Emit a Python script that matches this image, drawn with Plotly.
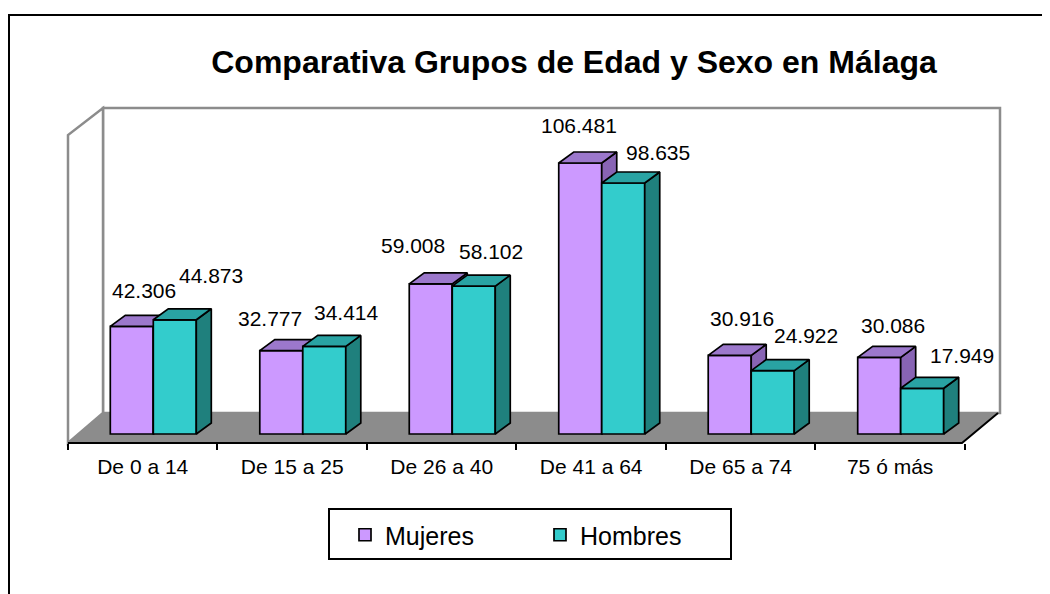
import plotly.graph_objects as go

# ---------------- data ----------------
categories = ["De 0 a 14", "De 15 a 25", "De 26 a 40", "De 41 a 64", "De 65 a 74", "75 ó más"]
mujeres = [42306, 32777, 59008, 106481, 30916, 30086]
hombres = [44873, 34414, 58102, 98635, 24922, 17949]
series_names = ["Mujeres", "Hombres"]

# label offsets (pixels) relative to the front-top centre of each bar (Excel placement)
lab_dx_m = [12, -11, -18, -1, 12, 14]
lab_dy_m = [36, 32, 38, 38, 37, 32]
lab_dx_h = [36, 22, 17, 35, 33, 40]
lab_dy_h = [44, 34, 35, 30, 35, 33]

# ---------------- geometry / style ----------------
W, H = 1050, 594
PAGE = 8                                   # browser body margin
def fx(xp):                                # page pixel -> figure pixel
    return xp - PAGE
def fy(yp):
    return yp - PAGE

L, R, T, B = fx(68), fx(1000), fy(108), fy(443)   # plot area in figure pixels
XMIN, XMAX = -0.5, 5.735
YMIN, YMAX = -3540, 128100
px_x = (R - L) / (XMAX - XMIN)
px_y = (B - T) / (YMAX - YMIN)
DX = 15 / px_x          # bar depth (data units)
DY = 11 / px_y
BW = 43 / px_x          # bar width
OFF_M = -0.217
OFF_H = OFF_M + BW

FONT = "Arial, Liberation Sans, sans-serif"
col = {
    "Mujeres": dict(front="#CC99FF", top="#9C78CC", side="#8864B4"),
    "Hombres": dict(front="#33CCCC", top="#29A3A3", side="#1F807D"),
}


def px2paper(xp, yp):
    """page pixel -> paper coordinates"""
    return (fx(xp) - L) / (R - L), (B - fy(yp)) / (B - T)


def fmt(v):
    return f"{v:,}".replace(",", ".")


fig = go.Figure()

for name, vals, off, xa, ya in [("Mujeres", mujeres, OFF_M, "x", "y"),
                                 ("Hombres", hombres, OFF_H, "x2", "y2")]:
    c = col[name]
    xs = list(range(len(categories)))
    fig.add_trace(go.Bar(
        x=xs, y=vals, base=0, offset=off, width=BW, name=name,
        marker=dict(color=c["front"], line=dict(color="black", width=1.7)),
        xaxis=xa, yaxis=ya, hoverinfo="skip"))
    topx, topy, sidex, sidey = [], [], [], []
    for i, v in enumerate(vals):
        x0 = i + off
        x1 = x0 + BW
        topx += [x0, x1, x1 + DX, x0 + DX, x0, None]
        topy += [v, v, v + DY, v + DY, v, None]
        sidex += [x1, x1, x1 + DX, x1 + DX, x1, None]
        sidey += [0, v, v + DY, DY, 0, None]
    fig.add_trace(go.Scatter(x=sidex, y=sidey, mode="lines", fill="toself",
                             fillcolor=c["side"], line=dict(color="black", width=1.7),
                             xaxis=xa, yaxis=ya, showlegend=False, hoverinfo="skip"))
    fig.add_trace(go.Scatter(x=topx, y=topy, mode="lines", fill="toself",
                             fillcolor=c["top"], line=dict(color="black", width=1.7),
                             xaxis=xa, yaxis=ya, showlegend=False, hoverinfo="skip"))

# data labels
ann = []
for vals, off, ddx, ddy in [(mujeres, OFF_M, lab_dx_m, lab_dy_m),
                            (hombres, OFF_H, lab_dx_h, lab_dy_h)]:
    for i, v in enumerate(vals):
        ann.append(dict(x=i + off + BW / 2, y=v, xref="x", yref="y", text=fmt(v),
                        showarrow=False, xanchor="center", yanchor="middle",
                        xshift=ddx[i], yshift=ddy[i],
                        font=dict(family=FONT, size=21, color="black")))

# walls, floor, axis line, borders
def poly(pts):
    q = [px2paper(a, b) for a, b in pts]
    return "M" + " L".join(f"{a},{b}" for a, b in q)

shapes = []
gray_line = dict(color="#8C8C8C", width=2.5)
bx0, by0 = px2paper(103, 413)
bx1, by1 = px2paper(1000, 108)
shapes.append(dict(type="rect", xref="paper", yref="paper", x0=bx0, y0=by0, x1=bx1, y1=by1,
                   fillcolor="white", line=gray_line, layer="below"))
shapes.append(dict(type="path", xref="paper", yref="paper",
                   path=poly([(68, 443), (68, 135), (103, 108), (103, 413)]) + " Z",
                   fillcolor="white", line=gray_line, layer="below"))
shapes.append(dict(type="path", xref="paper", yref="paper",
                   path=poly([(68, 443), (962, 443), (998, 413), (103, 413)]) + " Z",
                   fillcolor="#8C8C8C", line=dict(width=0), layer="below"))
shapes.append(dict(type="path", xref="paper", yref="paper",
                   path=poly([(68, 443), (962, 443), (998, 413)]),
                   line=dict(color="black", width=2), layer="below"))
# legend box
l0 = px2paper(329, 559); l1 = px2paper(731, 509)
shapes.append(dict(type="rect", xref="paper", yref="paper", x0=l0[0], y0=l0[1], x1=l1[0], y1=l1[1],
                   line=dict(color="black", width=2), fillcolor="rgba(0,0,0,0)", layer="above"))
# chart border
c0 = px2paper(9, 610); c1 = px2paper(1070, 15)
shapes.append(dict(type="rect", xref="paper", yref="paper", x0=c0[0], y0=c0[1], x1=c1[0], y1=c1[1],
                   line=dict(color="black", width=2), fillcolor="rgba(0,0,0,0)", layer="below"))

xaxis_common = dict(range=[XMIN, XMAX], showgrid=False, zeroline=False, showline=False)
fig.update_layout(
    width=W, height=H, autosize=False,
    margin=dict(l=L, r=W - R, t=T, b=H - B, pad=0),
    paper_bgcolor="white", plot_bgcolor="rgba(0,0,0,0)",
    barmode="overlay",
    title=dict(text="<b>Comparativa Grupos de Edad y Sexo en Málaga</b>",
               x=fx(574) / W, xanchor="center", y=1 - fy(62) / H, yanchor="middle",
               font=dict(family=FONT, size=32, color="black")),
    xaxis=dict(**xaxis_common, tickmode="array", tickvals=list(range(len(categories))),
               ticktext=categories, ticks="", ticklabelstandoff=9,
               tickfont=dict(family=FONT, size=21, color="black"),
               minor=dict(tickmode="array", tickvals=[k - 0.5 for k in range(len(categories) + 1)],
                          ticks="outside", ticklen=6, tickwidth=1.5, tickcolor="black")),
    yaxis=dict(range=[YMIN, YMAX], visible=False),
    xaxis2=dict(**xaxis_common, overlaying="x", visible=False),
    yaxis2=dict(range=[YMIN, YMAX], overlaying="y", visible=False),
    showlegend=True,
    legend=dict(orientation="h", x=(fx(345) - L) / (R - L), xanchor="left",
                y=(B - fy(535)) / (B - T), yanchor="middle",
                font=dict(family=FONT, size=25, color="black"),
                bgcolor="rgba(0,0,0,0)", borderwidth=0,
                entrywidth=150, entrywidthmode="pixels"),
    annotations=ann,
    shapes=shapes,
    hovermode=False,
)

fig.write_html("out.html")
